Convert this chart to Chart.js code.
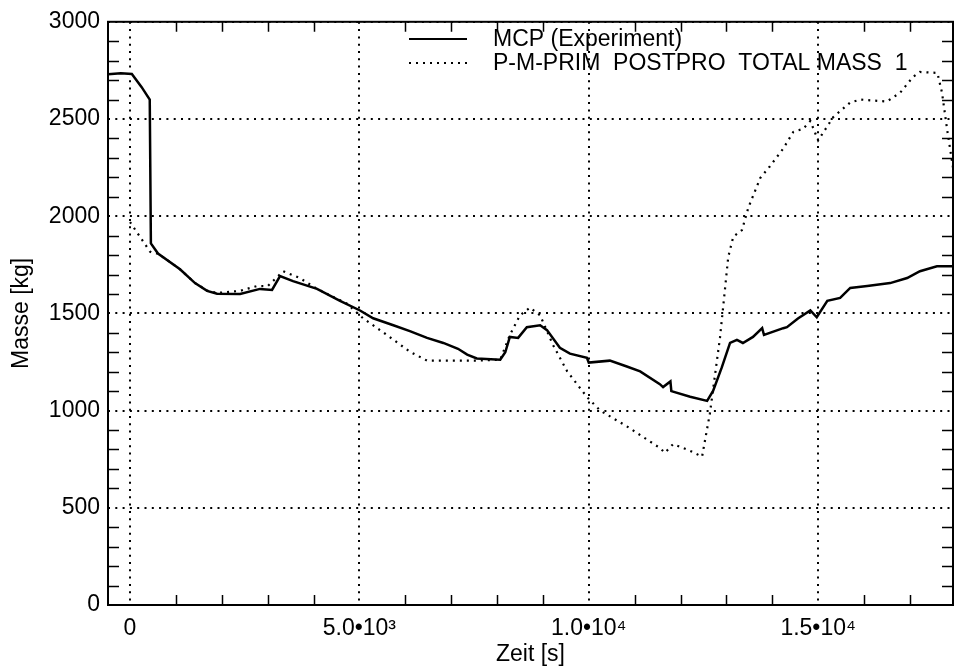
<!DOCTYPE html>
<html>
<head>
<meta charset="utf-8">
<script src="https://cdn.jsdelivr.net/npm/chart.js@4.4.1/dist/chart.umd.min.js"></script>
<style>
  body { margin: 0; background: #fff; }
  canvas { display: block; }
</style>
</head>
<body>
<canvas id="massCanvas" width="957" height="669"></canvas>
<script>
// MCP (Experiment) - Zeit [s] / Masse [kg]
var expTime = [-480, -200, 40, 250, 430, 455, 610, 1090, 1417, 1680, 1897, 2400, 2834, 3096, 3270, 3553, 4077, 4578,
    5014, 5300, 5740, 6100, 6475, 6830, 7150, 7350, 7560, 8070, 8180, 8280, 8460, 8650, 8940, 9090, 9370, 9590,
    9960, 10000, 10460, 10830, 11120, 11550, 11620, 11780, 11800, 12210, 12580, 12710, 12900, 13080, 13230, 13360,
    13580, 13780, 13820, 14240, 14320, 14560, 14830, 14970, 15200, 15480, 15700, 16070, 16570, 16940, 17220, 17590, 17940];
var expMass = [2730, 2735, 2732, 2665, 2600, 1860, 1808, 1727, 1656, 1616, 1601, 1600, 1626, 1621, 1692, 1666, 1626, 1565,
    1515, 1475, 1439, 1409, 1374, 1348, 1318, 1288, 1268, 1262, 1300, 1379, 1374, 1429, 1439, 1414, 1323, 1293,
    1272, 1247, 1257, 1227, 1202, 1136, 1121, 1150, 1100, 1071, 1050, 1101, 1222, 1348, 1364, 1348,
    1379, 1424, 1389, 1424, 1429, 1474, 1515, 1480, 1565, 1580, 1631, 1641, 1656, 1682, 1717, 1742, 1742];

// P-M-PRIM POSTPRO TOTAL MASS 1
var simTime = [0, 260, 436, 500, 610, 1090, 1417, 1680, 1897, 2400, 2770, 3000, 3340, 3700, 4077, 4730, 5080, 5600,
    6100, 6475, 7560, 8070, 8280, 8500, 8720, 8940, 9220, 9530, 9960, 10250, 10830, 11550, 11660, 11840, 12210,
    12470, 12640, 12860, 12970, 13040, 13150, 13340, 13480, 13740, 13950, 14240, 14460, 14670, 14830, 15000,
    15330, 15700, 15920, 16500, 16790, 17070, 17220, 17600, 17700, 17810, 17940];
var simMass = [1970, 1879, 1818, 1810, 1808, 1727, 1656, 1618, 1605, 1616, 1641, 1640, 1717, 1682, 1626, 1550, 1475, 1389,
    1303, 1257, 1257, 1262, 1389, 1490, 1530, 1490, 1338, 1202, 1070, 1000, 919, 808, 783, 828, 793,
    763, 985, 1374, 1626, 1790, 1894, 1929, 2045, 2197, 2257, 2348, 2434, 2449, 2490, 2390,
    2510, 2585, 2600, 2590, 2636, 2717, 2742, 2737, 2636, 2449, 2250];

var xTickValues = [0, 5000, 10000, 15000];
var xTickLabels = ['0', '5.0\u202210\u00B3', '1.0\u202210\u2074', '1.5\u202210\u2074'];
var seriesLabels = ['MCP (Experiment)', 'P-M-PRIM  POSTPRO  TOTAL MASS  1'];

var FONT = '"Liberation Sans", Arial, Helvetica, sans-serif';

function toPoints(xs, ys) {
    var pts = [];
    for (var i = 0; i < xs.length; i++) {
        pts.push({x: xs[i], y: ys[i]});
    }
    return pts;
}

// frame, inward minor ticks and the legend inside the plot
var framePlugin = {
    id: 'frame',
    afterDraw: function(chart) {
        var ctx = chart.ctx;
        var a = chart.chartArea;
        var sx = chart.scales.x, sy = chart.scales.y;
        ctx.save();
        ctx.strokeStyle = '#000';
        ctx.lineWidth = 1.5;
        ctx.beginPath();
        for (var t = -1000; t <= 18000; t += 1000) {
            if (t % 5000 === 0) continue;
            var px = Math.round(sx.getPixelForValue(t)) + 0.5;
            if (px < a.left + 2 || px > a.right - 2) continue;
            ctx.moveTo(px, a.bottom); ctx.lineTo(px, a.bottom - 10);
            ctx.moveTo(px, a.top); ctx.lineTo(px, a.top + 10);
        }
        for (var m = 100; m < 3000; m += 100) {
            if (m % 500 === 0) continue;
            var py = Math.round(sy.getPixelForValue(m)) + 0.5;
            ctx.moveTo(a.left, py); ctx.lineTo(a.left + 11, py);
            ctx.moveTo(a.right, py); ctx.lineTo(a.right - 11, py);
        }
        ctx.stroke();
        ctx.lineWidth = 2;
        ctx.strokeRect(a.left, a.top, a.right - a.left, a.bottom - a.top);

        // legend
        var ds = chart.data.datasets;
        var rows = [39, 63];
        ctx.font = '23px ' + FONT;
        ctx.fillStyle = '#000';
        ctx.textBaseline = 'alphabetic';
        for (var i = 0; i < ds.length; i++) {
            ctx.lineWidth = 2;
            ctx.setLineDash(ds[i].borderDash || []);
            ctx.beginPath();
            ctx.moveTo(409, rows[i]);
            ctx.lineTo(467, rows[i]);
            ctx.stroke();
            ctx.setLineDash([]);
            ctx.fillText(ds[i].label, 493, rows[i] + 7);
        }
        ctx.restore();
    }
};

var ctx = document.getElementById('massCanvas').getContext('2d');
var chart = new Chart(ctx, {
    type: 'line',
    data: {
        datasets: [{
            label: seriesLabels[0],
            data: toPoints(expTime, expMass),
            borderColor: '#000',
            borderWidth: 2.5,
            pointRadius: 0,
            tension: 0
        }, {
            label: seriesLabels[1],
            data: toPoints(simTime, simMass),
            borderColor: '#000',
            borderWidth: 2.2,
            borderDash: [2, 5],
            pointRadius: 0,
            tension: 0
        }]
    },
    options: {
        responsive: false,
        animation: false,
        layout: { padding: { top: 12, right: 4, left: 0, bottom: 0 } },
        plugins: {
            legend: { display: false },
            tooltip: { enabled: false }
        },
        scales: {
            x: {
                type: 'linear',
                min: -480,
                max: 17940,
                afterFit: function(s) { s.height = 64; },
                afterBuildTicks: function(s) {
                    s.ticks = xTickValues.map(function(v) { return {value: v}; });
                },
                grid: { color: '#000', lineWidth: 2, drawTicks: false },
                border: { display: false, dash: [2, 5.3] },
                ticks: {
                    autoSkip: false,
                    maxRotation: 0,
                    padding: 10,
                    color: '#000',
                    font: { family: FONT, size: 23 },
                    callback: function(v) {
                        var i = xTickValues.indexOf(v);
                        return i >= 0 ? xTickLabels[i] : '';
                    }
                },
                title: {
                    display: true,
                    text: 'Zeit [s]',
                    color: '#000',
                    font: { family: FONT, size: 23, lineHeight: 1.2 },
                    padding: { top: 0, bottom: 1 }
                }
            },
            y: {
                min: 0,
                max: 3000,
                afterFit: function(s) { s.width = 108; },
                grid: { color: '#000', lineWidth: 2, drawTicks: false },
                border: { display: false, dash: [2, 5.3] },
                ticks: {
                    stepSize: 500,
                    padding: 8,
                    color: '#000',
                    font: { family: FONT, size: 23 },
                    callback: function(v) { return String(v); }
                },
                title: {
                    display: true,
                    text: 'Masse [kg]',
                    color: '#000',
                    font: { family: FONT, size: 23, lineHeight: 1.2 },
                    padding: { top: 8, bottom: 0 }
                }
            }
        }
    },
    plugins: [framePlugin]
});
</script>
</body>
</html>
